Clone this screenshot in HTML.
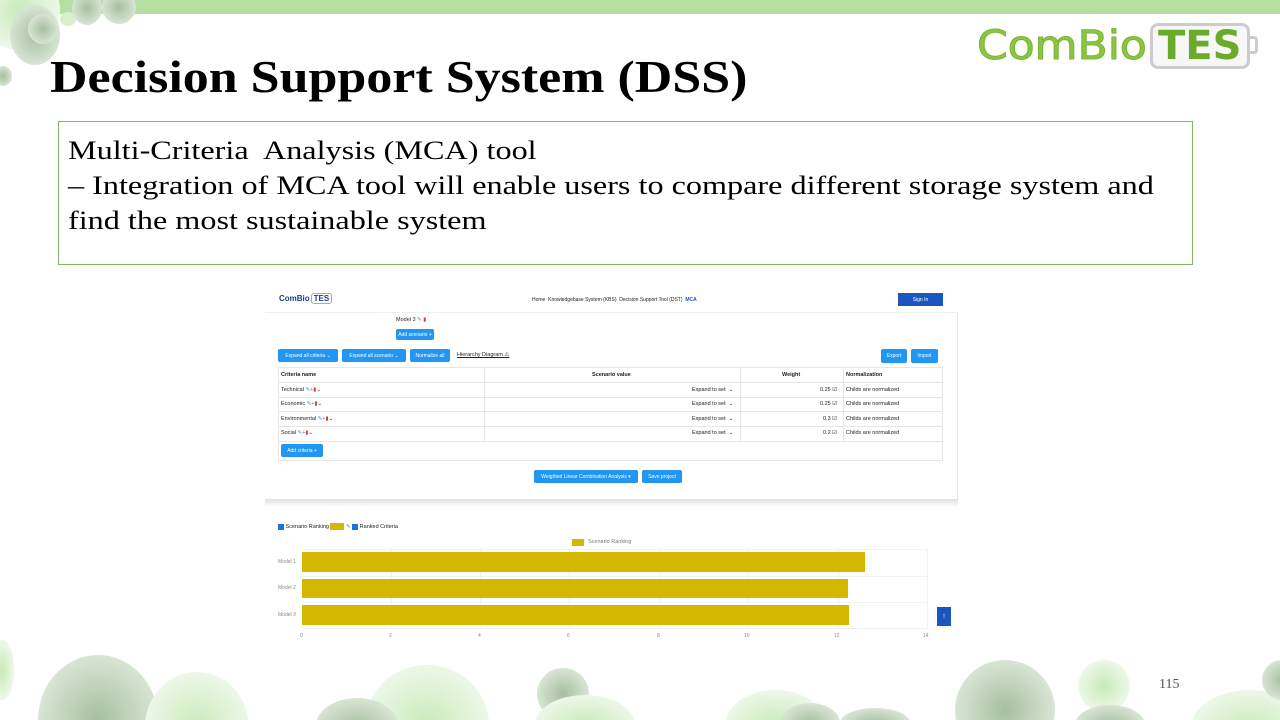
<!DOCTYPE html>
<html><head><meta charset="utf-8"><style>
*{margin:0;padding:0;box-sizing:border-box}
html,body{width:1280px;height:720px;overflow:hidden}
body{background:#fff;font-family:"Liberation Sans",sans-serif}
#w{position:relative;width:1280px;height:720px;overflow:hidden}
.a{position:absolute}
.btn{position:absolute;background:#2196f3;color:#fff;font-size:5px;border-radius:2px;display:flex;align-items:center;justify-content:center;white-space:nowrap}
.t{position:absolute;font-size:5.5px;color:#222;white-space:nowrap}
.hl{position:absolute;height:1px;background:#e6e6e6}
.vl{position:absolute;width:1px;background:#e6e6e6}
.ax{position:absolute;font-size:5px;color:#888;top:633px}
</style></head><body><div id="w">
<svg class="a" style="left:0;top:0" width="1280" height="720" viewBox="0 0 1280 720">
<defs>
<radialGradient id="g"><stop offset="0" stop-color="#a6bfa0"/><stop offset="1" stop-color="#d8e5d4"/></radialGradient>
<radialGradient id="l"><stop offset="0" stop-color="#c9eabb"/><stop offset="1" stop-color="#edf8e8"/></radialGradient>
</defs>
<rect x="50" y="0" width="1230" height="14" fill="#b6dea2"/>
<circle cx="20" cy="10" r="40" fill="url(#l)"/>
<ellipse cx="35" cy="35" rx="25" ry="30" fill="url(#g)"/>
<circle cx="43" cy="29" r="15" fill="url(#g)"/>
<ellipse cx="87" cy="8" rx="15" ry="17" fill="url(#g)"/>
<circle cx="119" cy="7" r="17" fill="url(#g)"/>
<ellipse cx="68" cy="19" rx="8" ry="7" fill="#d7efcb"/>
<ellipse cx="3" cy="76" rx="9" ry="10" fill="url(#g)"/>
<ellipse cx="2" cy="670" rx="12" ry="30" fill="url(#l)"/>
<ellipse cx="98" cy="720" rx="60" ry="65" fill="url(#g)"/>
<ellipse cx="197" cy="727" rx="52" ry="55" fill="url(#l)"/>
<ellipse cx="427" cy="725" rx="62" ry="60" fill="url(#l)"/>
<ellipse cx="357" cy="728" rx="42" ry="30" fill="url(#g)"/>
<circle cx="563" cy="694" r="26" fill="url(#g)"/>
<ellipse cx="585" cy="725" rx="50" ry="30" fill="url(#l)"/>
<ellipse cx="775" cy="725" rx="50" ry="35" fill="url(#l)"/>
<ellipse cx="810" cy="723" rx="30" ry="20" fill="url(#g)"/>
<ellipse cx="875" cy="723" rx="35" ry="15" fill="url(#g)"/>
<circle cx="1005" cy="710" r="50" fill="url(#g)"/>
<circle cx="1104" cy="686" r="26" fill="url(#l)"/>
<ellipse cx="1110" cy="725" rx="35" ry="20" fill="url(#g)"/>
<ellipse cx="1250" cy="730" rx="60" ry="40" fill="url(#l)"/>
<circle cx="1282" cy="680" r="20" fill="url(#g)"/>
</svg>
<!-- logo -->
<div class="a" style="left:977px;top:22px;font-size:40px;color:#8cc63f;font-family:'DejaVu Sans',sans-serif;line-height:48px;-webkit-text-stroke:1px #7ab536;white-space:nowrap;transform:scaleX(1.1);transform-origin:left top">ComBio</div>
<div class="a" style="left:1150px;top:23px;width:100px;height:46px;border:3px solid #ccc;border-radius:8px;background:#f7f7f7"></div>
<div class="a" style="left:1250px;top:36px;width:8px;height:18px;border:3px solid #ccc;border-left:none;border-radius:0 4px 4px 0"></div>
<div class="a" style="left:1158px;top:22px;font-size:40px;font-weight:bold;color:#6aab2b;font-family:'DejaVu Sans',sans-serif;line-height:48px">TES</div>
<!-- title -->
<div class="a" style="left:50px;top:50px;font-family:'Liberation Serif',serif;font-weight:bold;font-size:46px;color:#000;line-height:54px;white-space:nowrap;transform:scaleX(1.13);transform-origin:left top">Decision Support System (DSS)</div>
<!-- box -->
<div class="a" style="left:58px;top:121px;width:1135px;height:144px;border:1px solid #86b36b"></div>
<div class="a" style="left:68px;top:133px;font-family:'Liberation Serif',serif;font-size:26.5px;line-height:35px;color:#000;white-space:nowrap;transform:scaleX(1.215);transform-origin:left top">Multi-Criteria&nbsp; Analysis (MCA) tool<br>– Integration of MCA tool will enable users to compare different storage system and<br>find the most sustainable system</div>
<!-- screenshot -->
<div class="a" style="left:265px;top:287px;width:693px;height:26px;border-bottom:1px solid #eee"></div>
<div class="a" style="left:279px;top:294px;font-size:8px;font-weight:bold;color:#1a3e8c">ComBio<span style="border:1px solid #aaa;border-radius:3px;padding:0 2px;margin-left:1px">TES</span></div>
<div class="t" style="left:532px;top:297px;font-size:5px">Home &nbsp;Knowledgebase System (KBS) &nbsp;Decision Support Tool (DST) &nbsp;<b style="color:#1a55c0">MCA</b></div>
<div class="a" style="left:898px;top:293px;width:45px;height:13px;background:#1a55c0;color:#fff;font-size:5px;display:flex;align-items:center;justify-content:center">Sign In</div>
<div class="a" style="left:957px;top:313px;width:1px;height:190px;background:#e8e8e8"></div>
<div class="t" style="left:396px;top:317px">Model 3 <span style="color:#4a90d9">&#9998;</span> <span style="color:#e53935">&#9646;</span></div>
<div class="btn" style="left:396px;top:329px;width:38px;height:11px">Add scenario +</div>
<div class="btn" style="left:278px;top:349px;width:60px;height:13px">Expand all criteria ⌄</div>
<div class="btn" style="left:342px;top:349px;width:64px;height:13px">Expand all scenario ⌄</div>
<div class="btn" style="left:410px;top:349px;width:40px;height:13px">Normalize all</div>
<div class="t" style="left:457px;top:352px;text-decoration:underline">Hierarchy Diagram ⚠</div>
<div class="btn" style="left:881px;top:349px;width:26px;height:14px">Export</div>
<div class="btn" style="left:911px;top:349px;width:27px;height:14px">Import</div>
<div class="a" style="left:278px;top:367px;width:665px;height:94px;border:1px solid #e6e6e6"></div>
<div class="hl" style="left:278px;top:382px;width:665px"></div>
<div class="hl" style="left:278px;top:397px;width:665px"></div>
<div class="hl" style="left:278px;top:411px;width:665px"></div>
<div class="hl" style="left:278px;top:426px;width:665px"></div>
<div class="hl" style="left:278px;top:441px;width:665px"></div>
<div class="vl" style="left:484px;top:367px;height:74px"></div>
<div class="vl" style="left:740px;top:367px;height:74px"></div>
<div class="vl" style="left:843px;top:367px;height:74px"></div>
<div class="t" style="left:281px;top:372px;font-weight:bold">Criteria name</div>
<div class="t" style="left:592px;top:372px;font-weight:bold">Scenario value</div>
<div class="t" style="left:782px;top:372px;font-weight:bold">Weight</div>
<div class="t" style="left:846px;top:372px;font-weight:bold">Normalization</div>
<div class="t" style="left:281px;top:387px">Technical <span style="color:#4a90d9">&#9998;+</span><span style="color:#e53935">&#9646;</span>⌄</div>
<div class="t" style="left:281px;top:401px">Economic <span style="color:#4a90d9">&#9998;+</span><span style="color:#e53935">&#9646;</span>⌄</div>
<div class="t" style="left:281px;top:416px">Environmental <span style="color:#4a90d9">&#9998;+</span><span style="color:#e53935">&#9646;</span>⌄</div>
<div class="t" style="left:281px;top:430px">Social <span style="color:#4a90d9">&#9998;+</span><span style="color:#e53935">&#9646;</span>⌄</div>
<div class="t" style="left:692px;top:387px">Expand to set &nbsp;⌄</div>
<div class="t" style="left:692px;top:401px">Expand to set &nbsp;⌄</div>
<div class="t" style="left:692px;top:416px">Expand to set &nbsp;⌄</div>
<div class="t" style="left:692px;top:430px">Expand to set &nbsp;⌄</div>
<div class="t" style="left:820px;top:387px">0.25 ☑</div>
<div class="t" style="left:820px;top:401px">0.25 ☑</div>
<div class="t" style="left:823px;top:416px">0.3 ☑</div>
<div class="t" style="left:823px;top:430px">0.2 ☑</div>
<div class="t" style="left:846px;top:387px">Childs are normalized</div>
<div class="t" style="left:846px;top:401px">Childs are normalized</div>
<div class="t" style="left:846px;top:416px">Childs are normalized</div>
<div class="t" style="left:846px;top:430px">Childs are normalized</div>
<div class="btn" style="left:281px;top:444px;width:42px;height:13px">Add criteria +</div>
<div class="btn" style="left:534px;top:470px;width:104px;height:13px">Weighted Linear Combination Analysis ▾</div>
<div class="btn" style="left:642px;top:470px;width:40px;height:13px">Save project</div>
<div class="a" style="left:265px;top:499px;width:693px;height:8px;background:linear-gradient(#e0e0e0,#fff)"></div>
<div class="t" style="left:278px;top:523px"><span style="display:inline-block;width:6px;height:6px;background:#1a73e8;vertical-align:middle"></span> Scenario Ranking <span style="display:inline-block;width:14px;height:7px;background:#d4b800;vertical-align:middle"></span> <span style="color:#888">&#9998;</span> <span style="display:inline-block;width:6px;height:6px;background:#1a73e8;vertical-align:middle"></span> Ranked Criteria</div>
<div class="a" style="left:572px;top:539px;width:12px;height:7px;background:#d4b800"></div>
<div class="t" style="left:588px;top:539px;color:#777">Scenario Ranking</div>
<div class="vl" style="left:391px;top:549px;height:80px;background:#f2f2f2"></div>
<div class="vl" style="left:480px;top:549px;height:80px;background:#f2f2f2"></div>
<div class="vl" style="left:569px;top:549px;height:80px;background:#f2f2f2"></div>
<div class="vl" style="left:659px;top:549px;height:80px;background:#f2f2f2"></div>
<div class="vl" style="left:748px;top:549px;height:80px;background:#f2f2f2"></div>
<div class="vl" style="left:838px;top:549px;height:80px;background:#f2f2f2"></div>
<div class="vl" style="left:927px;top:549px;height:80px;background:#f2f2f2"></div>
<div class="hl" style="left:302px;top:549px;width:625px;background:#f2f2f2"></div>
<div class="hl" style="left:302px;top:576px;width:625px;background:#f2f2f2"></div>
<div class="hl" style="left:302px;top:602px;width:625px;background:#f2f2f2"></div>
<div class="hl" style="left:302px;top:628px;width:625px;background:#eee"></div>
<div class="a" style="left:302px;top:552px;width:563px;height:20px;background:#d4b800"></div>
<div class="a" style="left:302px;top:579px;width:546px;height:19px;background:#d4b800"></div>
<div class="a" style="left:302px;top:605px;width:547px;height:20px;background:#d4b800"></div>
<div class="t" style="left:278px;top:559px;color:#888;font-size:5px">Model 1</div>
<div class="t" style="left:278px;top:585px;color:#888;font-size:5px">Model 2</div>
<div class="t" style="left:278px;top:612px;color:#888;font-size:5px">Model 3</div>
<div class="ax" style="left:300px">0</div><div class="ax" style="left:389px">2</div><div class="ax" style="left:478px">4</div><div class="ax" style="left:567px">6</div><div class="ax" style="left:657px">8</div><div class="ax" style="left:744px">10</div><div class="ax" style="left:834px">12</div><div class="ax" style="left:923px">14</div>
<div class="a" style="left:937px;top:607px;width:14px;height:19px;background:#1a55c0;color:#fff;font-size:7px;text-align:center;line-height:19px">↑</div>
<div class="a" style="left:1159px;top:677px;font-family:'Liberation Serif',serif;font-size:14px;color:#555">115</div>
</div></body></html>
